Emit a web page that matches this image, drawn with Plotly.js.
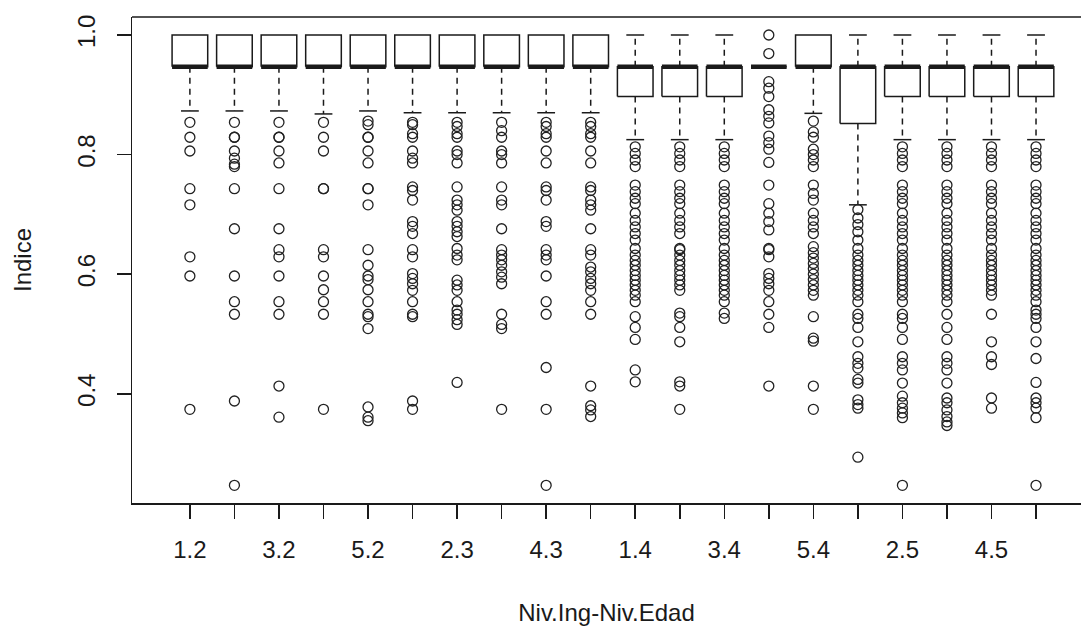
<!DOCTYPE html>
<html>
<head>
<meta charset="utf-8">
<script src="https://cdn.plot.ly/plotly-3.0.1.min.js"></script>
<style>
  html, body { margin: 0; padding: 0; background: #ffffff; }
  #chart { width: 1081px; height: 629px; }
</style>
</head>
<body>
<div id="chart"></div>
<script>
// ---- Data ----
const categories = ['1.2','2.2','3.2','4.2','5.2','1.3','2.3','3.3','4.3','5.3',
                    '1.4','2.4','3.4','4.4','5.4','1.5','2.5','3.5','4.5','5.5'];
// Labels R actually printed (others dropped for overlap)
const tickLabelsShown = ['1.2','','3.2','','5.2','','2.3','','4.3','',
                         '1.4','','3.4','','5.4','','2.5','','4.5',''];

const upperWhisker = [1.0,1.0,1.0,1.0,1.0,1.0,1.0,1.0,1.0,1.0,
                      1.0,1.0,1.0,0.947,1.0,1.0,1.0,1.0,1.0,1.0];
const q3Values     = [1.0,1.0,1.0,1.0,1.0,1.0,1.0,1.0,1.0,1.0,
                      0.947,0.947,0.947,0.947,1.0,0.947,0.947,0.947,0.947,0.947];
const medianValues = [0.947,0.947,0.947,0.947,0.947,0.947,0.947,0.947,0.947,0.947,
                      0.947,0.947,0.947,0.947,0.947,0.947,0.947,0.947,0.947,0.947];
const q1Values     = [0.947,0.947,0.947,0.947,0.947,0.947,0.947,0.947,0.947,0.947,
                      0.897,0.897,0.897,0.947,0.947,0.852,0.897,0.897,0.897,0.897];
const lowerWhisker = [0.873,0.873,0.873,0.868,0.873,0.870,0.870,0.870,0.870,0.870,
                      0.825,0.825,0.825,0.947,0.869,0.716,0.825,0.825,0.825,0.825];

const outliers = [
  [0.854,0.829,0.806,0.743,0.716,0.629,0.597,0.374],
  [0.854,0.829,0.829,0.806,0.794,0.784,0.780,0.743,0.676,0.597,0.554,0.533,0.388,0.247],
  [0.854,0.829,0.829,0.806,0.786,0.743,0.676,0.641,0.629,0.597,0.554,0.533,0.413,0.361],
  [0.854,0.829,0.806,0.743,0.743,0.641,0.629,0.597,0.574,0.554,0.533,0.374],
  [0.856,0.850,0.829,0.829,0.806,0.786,0.743,0.743,0.716,0.641,0.615,0.597,0.591,0.574,0.554,0.533,0.529,0.509,0.378,0.361,0.355],
  [0.854,0.850,0.835,0.829,0.806,0.794,0.786,0.746,0.740,0.724,0.688,0.680,0.668,0.641,0.629,0.601,0.593,0.584,0.573,0.554,0.533,0.529,0.388,0.374],
  [0.854,0.847,0.835,0.829,0.806,0.800,0.786,0.746,0.724,0.716,0.707,0.688,0.680,0.671,0.663,0.643,0.632,0.624,0.590,0.582,0.573,0.554,0.540,0.533,0.524,0.516,0.419],
  [0.854,0.840,0.829,0.806,0.800,0.786,0.746,0.724,0.716,0.676,0.641,0.632,0.624,0.615,0.604,0.595,0.584,0.533,0.516,0.509,0.374],
  [0.854,0.847,0.835,0.829,0.806,0.786,0.746,0.740,0.724,0.688,0.680,0.641,0.632,0.624,0.597,0.554,0.533,0.444,0.374,0.247],
  [0.854,0.847,0.835,0.829,0.806,0.786,0.746,0.740,0.724,0.716,0.707,0.676,0.641,0.632,0.612,0.604,0.593,0.584,0.573,0.554,0.533,0.413,0.380,0.373,0.362],
  [0.813,0.802,0.791,0.780,0.749,0.738,0.727,0.718,0.702,0.690,0.679,0.668,0.657,0.643,0.632,0.623,0.615,0.606,0.598,0.590,0.582,0.573,0.565,0.554,0.529,0.511,0.491,0.440,0.420],
  [0.813,0.802,0.791,0.780,0.749,0.738,0.727,0.718,0.702,0.690,0.679,0.668,0.643,0.641,0.632,0.623,0.615,0.606,0.598,0.590,0.582,0.573,0.535,0.529,0.511,0.487,0.420,0.413,0.374],
  [0.813,0.802,0.791,0.780,0.749,0.738,0.727,0.718,0.702,0.690,0.679,0.668,0.657,0.643,0.632,0.623,0.615,0.606,0.598,0.590,0.582,0.573,0.565,0.554,0.535,0.526],
  [1.0,0.969,0.922,0.911,0.897,0.875,0.864,0.853,0.831,0.820,0.809,0.787,0.749,0.718,0.702,0.688,0.674,0.643,0.641,0.629,0.601,0.593,0.584,0.573,0.554,0.533,0.511,0.413],
  [0.856,0.838,0.829,0.809,0.800,0.791,0.780,0.749,0.735,0.724,0.702,0.690,0.679,0.668,0.646,0.636,0.627,0.618,0.609,0.600,0.591,0.582,0.573,0.565,0.529,0.493,0.488,0.413,0.374],
  [0.708,0.694,0.683,0.671,0.657,0.643,0.632,0.623,0.615,0.606,0.598,0.590,0.582,0.573,0.565,0.554,0.533,0.526,0.511,0.487,0.462,0.451,0.443,0.424,0.418,0.390,0.382,0.376,0.294],
  [0.813,0.802,0.791,0.780,0.749,0.738,0.727,0.718,0.702,0.690,0.679,0.668,0.657,0.643,0.632,0.623,0.615,0.606,0.598,0.590,0.582,0.573,0.565,0.554,0.533,0.526,0.511,0.491,0.462,0.451,0.440,0.418,0.396,0.385,0.376,0.368,0.360,0.247],
  [0.813,0.802,0.791,0.780,0.749,0.738,0.727,0.718,0.702,0.690,0.679,0.668,0.657,0.643,0.632,0.623,0.615,0.606,0.598,0.590,0.582,0.573,0.565,0.554,0.533,0.511,0.491,0.462,0.451,0.440,0.418,0.393,0.385,0.373,0.362,0.353,0.347],
  [0.813,0.802,0.791,0.780,0.749,0.738,0.727,0.718,0.702,0.690,0.679,0.668,0.657,0.643,0.632,0.623,0.615,0.606,0.598,0.590,0.582,0.573,0.565,0.533,0.487,0.462,0.449,0.393,0.376],
  [0.813,0.802,0.791,0.780,0.749,0.738,0.727,0.718,0.702,0.690,0.679,0.668,0.657,0.643,0.632,0.623,0.615,0.606,0.598,0.590,0.582,0.573,0.565,0.554,0.540,0.533,0.526,0.511,0.487,0.459,0.419,0.393,0.385,0.376,0.360,0.247]
];

const yTickVals = [0.4, 0.6, 0.8, 1.0];
const yTickText = ['0.4', '0.6', '0.8', '1.0'];

// ---- Build geometry from the data ----
const HALF = 0.4;      // half box width (boxwex 0.8)
const STAPLE = 0.2;    // half staple width
const INK = '#1a1a1a';

const boxX = [], boxY = [], medX = [], medY = [], whX = [], whY = [], stX = [], stY = [];
const outX = [], outY = [];
categories.forEach((c, k) => {
  const i = k + 1;
  boxX.push(i - HALF, i + HALF, i + HALF, i - HALF, i - HALF, null);
  boxY.push(q1Values[k], q1Values[k], q3Values[k], q3Values[k], q1Values[k], null);
  medX.push(i - HALF, i + HALF, null);
  medY.push(medianValues[k], medianValues[k], null);
  if (upperWhisker[k] > q3Values[k]) {
    whX.push(i, i, null); whY.push(q3Values[k], upperWhisker[k], null);
    stX.push(i - STAPLE, i + STAPLE, null); stY.push(upperWhisker[k], upperWhisker[k], null);
  }
  if (lowerWhisker[k] < q1Values[k]) {
    whX.push(i, i, null); whY.push(q1Values[k], lowerWhisker[k], null);
    stX.push(i - STAPLE, i + STAPLE, null); stY.push(lowerWhisker[k], lowerWhisker[k], null);
  }
  outliers[k].forEach(v => { outX.push(i); outY.push(v); });
});

const traces = [
  { type: 'scatter', mode: 'lines', x: whX, y: whY, hoverinfo: 'skip',
    line: { color: INK, width: 1.5, dash: '6px,5px' }, connectgaps: false },
  { type: 'scatter', mode: 'lines', x: stX, y: stY, hoverinfo: 'skip',
    line: { color: INK, width: 1.5 }, connectgaps: false },
  { type: 'scatter', mode: 'lines', x: boxX, y: boxY, hoverinfo: 'skip',
    line: { color: INK, width: 1.5 }, connectgaps: false, fill: 'none' },
  { type: 'scatter', mode: 'lines', x: medX, y: medY, hoverinfo: 'skip',
    line: { color: INK, width: 4.5 }, connectgaps: false },
  { type: 'scatter', mode: 'markers', x: outX, y: outY, hoverinfo: 'skip',
    marker: { symbol: 'circle-open', size: 10, color: '#222222', line: { width: 1.3, color: '#222222' } } }
];

const FONT = 'Liberation Sans, Arial, Helvetica, sans-serif';

const layout = {
  width: 1081, height: 629,
  margin: { l: 132, r: 0, t: 17, b: 126, pad: 0 },
  paper_bgcolor: '#ffffff', plot_bgcolor: '#ffffff',
  showlegend: false,
  font: { family: FONT, size: 24, color: INK },
  xaxis: {
    range: [-0.3, 21.01], fixedrange: true,
    tickmode: 'array', tickvals: categories.map((c, k) => k + 1), ticktext: tickLabelsShown,
    ticks: 'outside', ticklen: 14, tickwidth: 1.5, tickcolor: INK,
    showline: true, linewidth: 1.5, linecolor: INK, mirror: false,
    showgrid: false, zeroline: false,
    tickfont: { family: FONT, size: 24, color: INK },
    ticklabelstandoff: 11,
    title: { text: 'Niv.Ing-Niv.Edad', font: { family: FONT, size: 24, color: INK }, standoff: 42 }
  },
  yaxis: {
    range: [0.2174, 1.0301], fixedrange: true,
    tickmode: 'array', tickvals: yTickVals, ticktext: yTickText,
    tickangle: -90,
    ticks: 'outside', ticklen: 14, tickwidth: 1.5, tickcolor: INK,
    showline: true, linewidth: 1.5, linecolor: INK, mirror: false,
    showgrid: false, zeroline: false,
    tickfont: { family: FONT, size: 24, color: INK },
    ticklabelstandoff: 12,
    title: { text: 'Indice', font: { family: FONT, size: 24, color: INK }, standoff: 34 }
  },
  shapes: [
    { type: 'line', xref: 'paper', yref: 'paper', x0: 0, x1: 1, y0: 1, y1: 1,
      line: { color: INK, width: 1.5 } }
  ]
};

Plotly.newPlot('chart', traces, layout, { displayModeBar: false, staticPlot: true });
</script>
</body>
</html>
